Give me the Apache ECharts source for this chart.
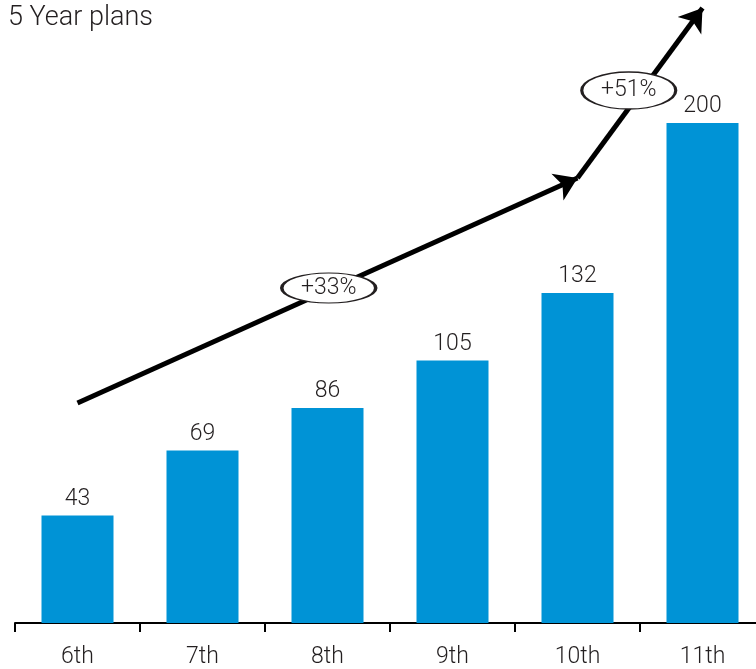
<!DOCTYPE html>
<html>
<head>
<meta charset="utf-8">
<script src="https://cdn.jsdelivr.net/npm/echarts@6/dist/echarts.min.js"></script>
<style>html,body{margin:0;padding:0;background:#fff}#c{width:756px;height:669px}</style>
</head>
<body>
<div id="c"></div>
<script>
var titleText = '5 Year plans';
var categories = ['6th', '7th', '8th', '9th', '10th', '11th'];
var values = [43, 69, 86, 105, 132, 200];
// trend arrow segments: [categoryIndex, value] pairs
var arrowSegments = [
  [[0, 88], [4, 178]],
  [[4, 178], [5, 246]]
];
// growth annotations: [categoryPosition, value, text]
var annotations = [
  [2.01, 134, '+33%'],
  [4.41, 213, '+51%']
];
var annotationHeights = [30, 37];

var chart = echarts.init(document.getElementById('c'), null, {renderer: 'canvas'});
var txt = '#231f20';
var font = 'Roboto';
chart.setOption({
  animation: false,
  backgroundColor: '#fff',
  title: {
    text: titleText, left: 3, top: 0,
    textStyle: {fontFamily: font, fontWeight: 300, fontSize: 27, color: txt}
  },
  grid: {left: 15, right: -9, top: -2, bottom: 46, outerBoundsMode: 'none', containLabel: false},
  xAxis: [{
    type: 'category', data: categories,
    axisLine: {lineStyle: {color: '#000', width: 2}},
    axisTick: {show: true, length: 9, lineStyle: {color: '#000', width: 2}},
    axisLabel: {margin: 23, fontSize: 23, color: txt, fontFamily: font, fontWeight: 300}
  }, {
    type: 'value', min: -0.5, max: 5.5, show: false
  }],
  yAxis: {type: 'value', min: 0, max: 250, show: false},
  series: [{
    type: 'bar', data: values, barWidth: 72, xAxisIndex: 0,
    itemStyle: {color: '#0093d6'},
    label: {show: true, position: 'top', distance: 5, fontSize: 23,
      fontFamily: font, fontWeight: 300, color: txt}
  }, {
    type: 'lines', coordinateSystem: 'cartesian2d', xAxisIndex: 1, yAxisIndex: 0,
    z: 3,
    symbol: ['none', 'arrow'], symbolSize: [17, 22],
    lineStyle: {color: '#000', width: 5, opacity: 1},
    data: arrowSegments.map(function (s) { return {coords: s}; })
  }, {
    type: 'scatter', xAxisIndex: 1, yAxisIndex: 0, z: 5,
    symbol: 'circle',
    symbolSize: function (v, p) { return [94, annotationHeights[p.dataIndex]]; },
    itemStyle: {color: '#fff', borderColor: txt, borderWidth: 2, opacity: 1},
    label: {show: true, position: 'inside', fontSize: 23, fontFamily: font, fontWeight: 300, color: txt,
      formatter: function (p) { return p.data[2]; }},
    data: annotations
  }]
});
</script>
</body>
</html>
